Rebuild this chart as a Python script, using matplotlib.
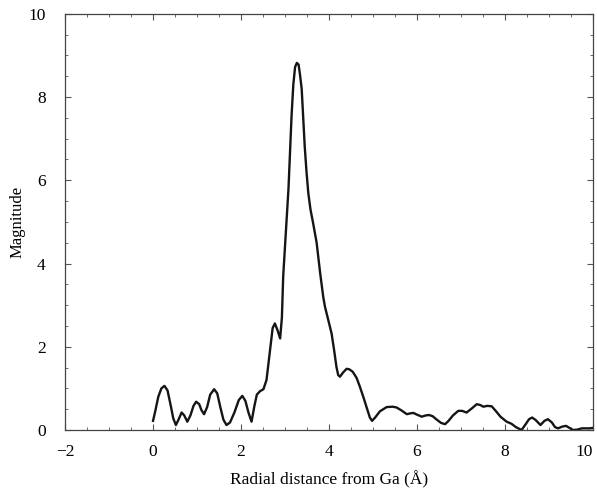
import matplotlib
matplotlib.use("Agg")
import matplotlib.pyplot as plt
from matplotlib.ticker import MultipleLocator

# ── data ──────────────────────────────────────────────────────────────────────
r = [0.00, 0.05, 0.12, 0.19, 0.26, 0.33, 0.40, 0.46, 0.52, 0.58,
     0.65, 0.71, 0.78, 0.85, 0.92, 0.98, 1.05, 1.10, 1.16, 1.23,
     1.30, 1.39, 1.46, 1.53, 1.60, 1.67, 1.75, 1.85, 1.95, 2.03,
     2.10, 2.17, 2.24, 2.30, 2.36, 2.43, 2.51, 2.58, 2.66, 2.72,
     2.77, 2.83, 2.89, 2.93, 2.96, 3.00, 3.04, 3.08, 3.12, 3.15,
     3.19, 3.23, 3.27, 3.31, 3.34, 3.38, 3.42, 3.45, 3.49, 3.53,
     3.58, 3.64, 3.72, 3.80, 3.87, 3.91, 3.97, 4.06, 4.12, 4.17,
     4.21, 4.25, 4.32, 4.40, 4.46, 4.54, 4.63, 4.70, 4.78, 4.87,
     4.93, 4.98, 5.05, 5.16, 5.31, 5.45, 5.54, 5.65, 5.77, 5.85,
     5.92, 6.00, 6.11, 6.20, 6.28, 6.36, 6.45, 6.55, 6.64, 6.72,
     6.82, 6.94, 7.03, 7.13, 7.25, 7.36, 7.44, 7.51, 7.60, 7.70,
     7.80, 7.90, 8.04, 8.15, 8.25, 8.38, 8.48, 8.55, 8.62, 8.70,
     8.81, 8.90, 8.98, 9.07, 9.14, 9.21, 9.30, 9.39, 9.47, 9.55,
     9.65, 9.75, 9.86, 9.94, 10.00]
magnitude = [0.22, 0.45, 0.80, 1.00, 1.06, 0.95, 0.60, 0.28, 0.12, 0.25,
             0.42, 0.35, 0.20, 0.35, 0.58, 0.68, 0.62, 0.48, 0.38, 0.55,
             0.85, 0.98, 0.88, 0.55, 0.25, 0.12, 0.18, 0.42, 0.72, 0.82,
             0.70, 0.42, 0.20, 0.55, 0.85, 0.93, 0.98, 1.20, 1.92, 2.45,
             2.56, 2.40, 2.20, 2.70, 3.70, 4.40, 5.10, 5.80, 6.80, 7.55,
             8.30, 8.72, 8.82, 8.78, 8.55, 8.20, 7.40, 6.80, 6.20, 5.70,
             5.30, 4.97, 4.50, 3.77, 3.20, 2.96, 2.70, 2.32, 1.90, 1.52,
             1.32, 1.28, 1.38, 1.47, 1.46, 1.40, 1.25, 1.05, 0.80, 0.50,
             0.30, 0.22, 0.30, 0.45, 0.55, 0.56, 0.54, 0.47, 0.38, 0.40,
             0.41, 0.37, 0.32, 0.35, 0.36, 0.33, 0.25, 0.17, 0.14, 0.22,
             0.35, 0.46, 0.46, 0.42, 0.52, 0.62, 0.60, 0.56, 0.58, 0.57,
             0.45, 0.32, 0.20, 0.15, 0.07, 0.00, 0.15, 0.26, 0.30, 0.24,
             0.12, 0.22, 0.26, 0.18, 0.07, 0.04, 0.08, 0.10, 0.05, 0.00,
             0.01, 0.04, 0.04, 0.04, 0.05]

x_ticks = [-2, 0, 2, 4, 6, 8, 10]
y_ticks = [0, 2, 4, 6, 8, 10]

# ── figure ────────────────────────────────────────────────────────────────────
plt.rcParams["font.family"] = ["Liberation Serif", "DejaVu Serif"]

fig = plt.figure(figsize=(5.97, 4.92), dpi=100)
ax = fig.add_axes([0.109, 0.126, 0.884, 0.846])

ax.plot(r, magnitude, color="#151515", lw=1.7, solid_joinstyle="round")

ax.set_xlim(-2, 10)
ax.set_ylim(0, 10)
ax.set_xticks(x_ticks)
ax.set_yticks(y_ticks)
ax.xaxis.set_minor_locator(MultipleLocator(0.5))
ax.yaxis.set_minor_locator(MultipleLocator(0.5))
ax.tick_params(which="both", direction="in", top=True, right=True,
               color="#555555", labelsize=12.5)
ax.tick_params(which="major", length=4, width=0.8)
ax.tick_params(which="minor", length=2, width=0.6)
ax.tick_params(axis="x", which="major", pad=10)
ax.tick_params(axis="y", which="major", pad=14)

# last x label sits against the right edge, as in the scan
ax.get_xticklabels()[-1].set_horizontalalignment("right")
ax.get_xticklabels()[-1].set_x(10)

for side in ax.spines.values():
    side.set_color("#444444")
    side.set_linewidth(0.9)

ax.set_xlabel("Radial distance from Ga (Å)", fontsize=12.5, labelpad=8)
ax.set_ylabel("Magnitude", fontsize=12, labelpad=2)

plt.savefig("out.png", dpi=100)
